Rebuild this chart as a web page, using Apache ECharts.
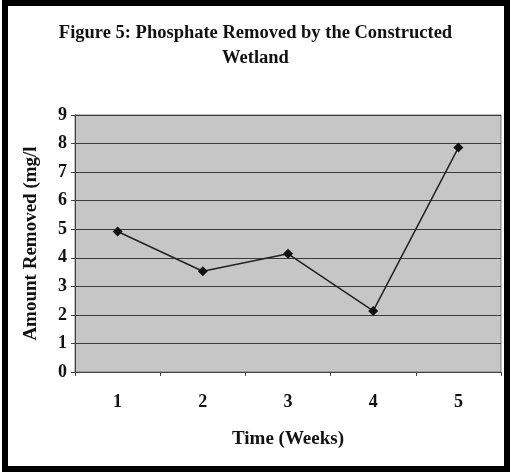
<!DOCTYPE html>
<html>
<head>
<meta charset="utf-8">
<script src="https://cdn.jsdelivr.net/npm/echarts@6/dist/echarts.min.js"></script>
<style>
  html, body { margin: 0; padding: 0; background: #fff; }
  #chart { width: 511px; height: 473px; }
</style>
</head>
<body>
<div id="chart"></div>
<script>
// data
const weeks = ['1', '2', '3', '4', '5']
const removed = [4.92, 3.53, 4.14, 2.14, 7.86]
const yTicks = [0, 1, 2, 3, 4, 5, 6, 7, 8, 9]

const serif = '"Liberation Serif", "DejaVu Serif", serif'

const chart = echarts.init(document.getElementById('chart'))

const option = {
  backgroundColor: '#fff',
  animation: false,
  title: {
    text: 'Figure 5: Phosphate Removed by the Constructed\nWetland',
    left: 'center',
    top: 16,
    textStyle: {
      fontFamily: serif,
      fontWeight: 'bold',
      fontSize: 18.5,
      lineHeight: 25,
      color: '#111'
    }
  },
  graphic: [{
    type: 'rect',
    shape: { x: 5, y: 3, width: 502, height: 466 },
    style: { fill: 'none', stroke: '#000', lineWidth: 6 },
    silent: true
  }],
  grid: {
    left: 75,
    right: 10,
    top: 115,
    bottom: 101,
    show: true,
    backgroundColor: '#c6c6c6',
    borderColor: '#777',
    borderWidth: 1
  },
  xAxis: {
    type: 'category',
    data: weeks,
    boundaryGap: true,
    name: 'Time (Weeks)',
    nameLocation: 'middle',
    nameGap: 58,
    nameTextStyle: { fontFamily: serif, fontWeight: 'bold', fontSize: 19, color: '#111' },
    axisLine: { lineStyle: { color: '#444', width: 1 } },
    axisTick: { show: true, length: 4, lineStyle: { color: '#444' } },
    axisLabel: { fontFamily: serif, fontWeight: 'bold', fontSize: 18, color: '#111', margin: 21 },
    splitLine: { show: false }
  },
  yAxis: {
    type: 'value',
    min: 0,
    max: 9,
    interval: 1,
    name: 'Amount Removed (mg/l',
    nameLocation: 'middle',
    nameGap: 34,
    nameTextStyle: { fontFamily: serif, fontWeight: 'bold', fontSize: 19, color: '#111' },
    axisLine: { show: true, lineStyle: { color: '#444', width: 1 } },
    axisTick: { show: true, length: 4, lineStyle: { color: '#444' } },
    axisLabel: {
      fontFamily: serif, fontWeight: 'bold', fontSize: 18, color: '#111', margin: 8,
      formatter: v => yTicks.includes(v) ? String(v) : ''
    },
    splitLine: { show: true, lineStyle: { color: '#3a3a3a', width: 1 } }
  },
  series: [{
    name: 'Amount Removed',
    type: 'line',
    data: removed,
    symbol: 'diamond',
    symbolSize: 10,
    itemStyle: { color: '#111' },
    lineStyle: { color: '#222', width: 1.5 }
  }]
}

chart.setOption(option)
</script>
</body>
</html>
